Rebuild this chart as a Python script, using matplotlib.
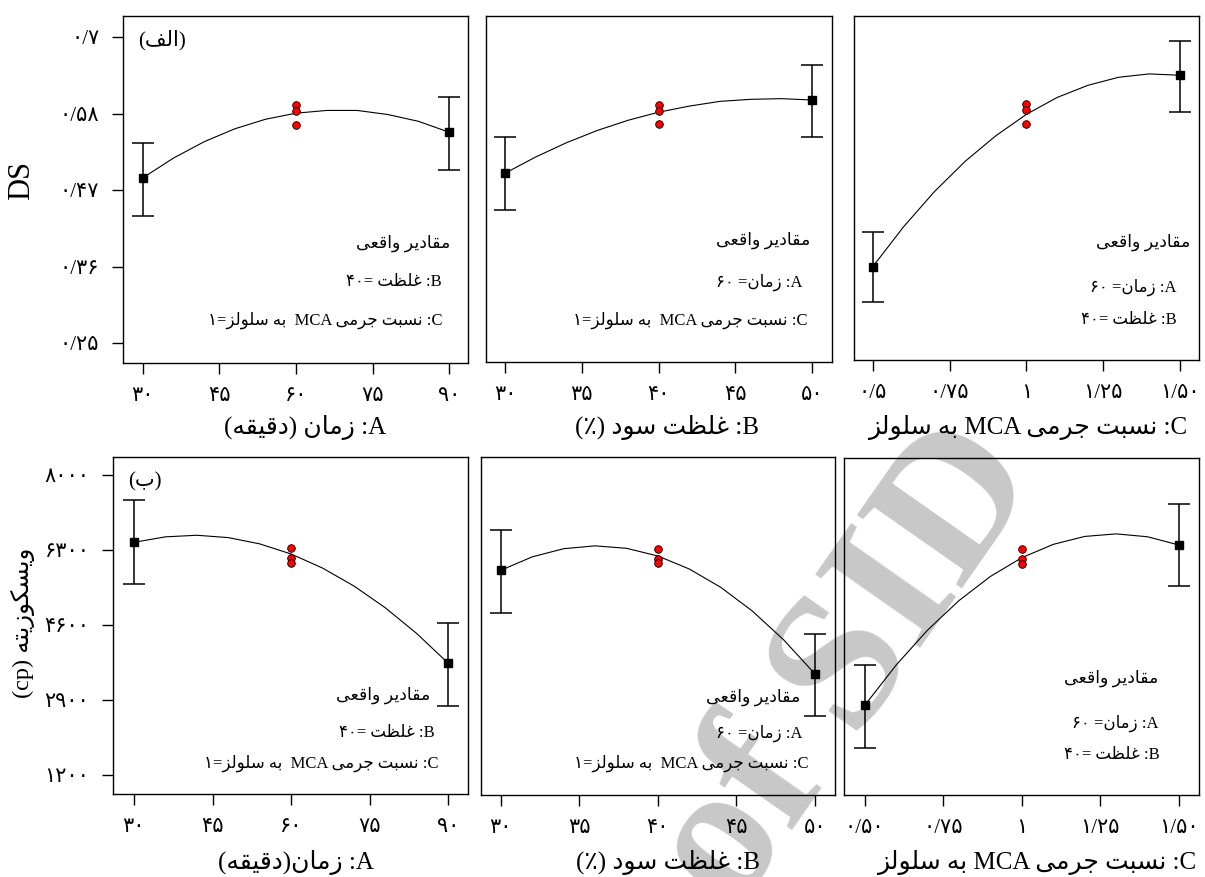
import numpy as np
import matplotlib
matplotlib.use('Agg')
import matplotlib.pyplot as plt

plt.rcParams['font.family'] = ['Liberation Serif', 'DejaVu Sans']

# factor levels along each x axis (curve read at these points)
time_x = [30, 36, 42, 48, 54, 60, 66, 72, 78, 84, 90]
conc_x = [30, 32, 34, 36, 38, 40, 42, 44, 46, 48, 50]
ratio_x = [0.5, 0.6, 0.7, 0.8, 0.9, 1.0, 1.1, 1.2, 1.3, 1.4, 1.5]

# DS model curves
ds_time_curve = [0.493, 0.522, 0.546, 0.565, 0.579, 0.588, 0.592, 0.592, 0.586, 0.576, 0.560]
ds_conc_curve = [0.499, 0.523, 0.544, 0.562, 0.577, 0.589, 0.598, 0.605, 0.608, 0.609, 0.607]
ds_ratio_curve = [0.359, 0.418, 0.470, 0.515, 0.553, 0.585, 0.610, 0.628, 0.640, 0.645, 0.643]

# viscosity model curves (cp)
vis_time_curve = [6474, 6598, 6634, 6581, 6439, 6209, 5890, 5483, 4988, 4404, 3731]
vis_conc_curve = [5846, 6150, 6335, 6400, 6345, 6171, 5877, 5463, 4930, 4277, 3504]
vis_ratio_curve = [2801, 3715, 4507, 5176, 5723, 6148, 6450, 6630, 6688, 6623, 6436]

# end points with error bars: (mean, low, high) at low and high level
ds_time_ends = [[0.493, 0.560], [0.437, 0.504], [0.544, 0.612]]
ds_conc_ends = [[0.499, 0.607], [0.445, 0.552], [0.552, 0.658]]
ds_ratio_ends = [[0.359, 0.643], [0.306, 0.589], [0.410, 0.694]]
vis_time_ends = [[6474, 3731], [5529, 2763], [7433, 4652]]
vis_conc_ends = [[5846, 3504], [4879, 2560], [6769, 4411]]
vis_ratio_ends = [[2801, 6436], [1841, 5499], [3708, 7358]]

# centre point replicates (actual values)
ds_center = [0.600, 0.591, 0.571]
vis_center = [6340, 6112, 6010]

time_ticks = ['۳۰', '۴۵', '۶۰', '۷۵', '۹۰']
conc_ticks = ['۳۰', '۳۵', '۴۰', '۴۵', '۵۰']
ratio_ticks_top = ['۰/۵', '۰/۷۵', '۱', '۱/۲۵', '۱/۵۰']
ratio_ticks_bot = ['۰/۵۰', '۰/۷۵', '۱', '۱/۲۵', '۱/۵۰']
ds_yticks = [0.25, 0.3625, 0.475, 0.5875, 0.7]
ds_ylabels = ['۰/۲۵', '۰/۳۶', '۰/۴۷', '۰/۵۸', '۰/۷']
vis_yticks = [1200, 2900, 4600, 6300, 8000]
vis_ylabels = ['۱۲۰۰', '۲۹۰۰', '۴۶۰۰', '۶۳۰۰', '۸۰۰۰']

# --- tiny arabic shaping + bidi so persian reads right without extra libs ---
def _f(*c):
    return tuple(chr(x) for x in c)

FORMS = {
    'ا': _f(0xFE8D, 0xFE8E), 'ب': _f(0xFE8F, 0xFE90, 0xFE91, 0xFE92),
    'ت': _f(0xFE95, 0xFE96, 0xFE97, 0xFE98), 'ج': _f(0xFE9D, 0xFE9E, 0xFE9F, 0xFEA0),
    'د': _f(0xFEA9, 0xFEAA), 'ر': _f(0xFEAD, 0xFEAE), 'ز': _f(0xFEAF, 0xFEB0),
    'س': _f(0xFEB1, 0xFEB2, 0xFEB3, 0xFEB4), 'ظ': _f(0xFEC5, 0xFEC6, 0xFEC7, 0xFEC8),
    'ع': _f(0xFEC9, 0xFECA, 0xFECB, 0xFECC), 'غ': _f(0xFECD, 0xFECE, 0xFECF, 0xFED0),
    'ف': _f(0xFED1, 0xFED2, 0xFED3, 0xFED4), 'ق': _f(0xFED5, 0xFED6, 0xFED7, 0xFED8),
    'ک': _f(0xFB8E, 0xFB8F, 0xFB90, 0xFB91), 'ل': _f(0xFEDD, 0xFEDE, 0xFEDF, 0xFEE0),
    'م': _f(0xFEE1, 0xFEE2, 0xFEE3, 0xFEE4), 'ن': _f(0xFEE5, 0xFEE6, 0xFEE7, 0xFEE8),
    'ه': _f(0xFEE9, 0xFEEA, 0xFEEB, 0xFEEC), 'و': _f(0xFEED, 0xFEEE),
    'ی': _f(0xFBFC, 0xFBFD, 0xFBFE, 0xFBFF),
}
MIRROR = {'(': ')', ')': '('}


def shape(txt):
    out = []
    for i, ch in enumerate(txt):
        f = FORMS.get(ch)
        if f is None:
            out.append(ch)
            continue
        prev = FORMS.get(txt[i-1]) if i > 0 else None
        nxt = FORMS.get(txt[i+1]) if i + 1 < len(txt) else None
        a = prev is not None and len(prev) == 4
        b = nxt is not None and len(f) == 4
        if a and b:
            out.append(f[3])
        elif a:
            out.append(f[1])
        elif b:
            out.append(f[2])
        else:
            out.append(f[0])
    return ''.join(out)


def fa(txt):
    runs = []
    for ch in txt:
        ltr = (ch.isascii() and ch.isalnum()) or '\u06f0' <= ch <= '\u06f9'
        if runs and runs[-1][0] == ltr:
            runs[-1][1] += ch
        else:
            runs.append([ltr, ch])
    parts = []
    for ltr, s in reversed(runs):
        if ltr:
            parts.append(s)
        else:
            parts.append(''.join(MIRROR.get(c, c) for c in reversed(shape(s))))
    return ''.join(parts)


W, H = 1205, 877
fig = plt.figure(figsize=(W/100, H/100), dpi=100)

# grey watermark sitting behind the panels
fig.text(850/W, 1-668/H, 'of SID', fontsize=140, fontweight='bold', color='#c8c8c8',
         rotation=55, rotation_mode='anchor', ha='center', va='center', zorder=-5)


def box(l, t, r, b):
    return fig.add_axes([l/W, 1-b/H, (r-l)/W, (b-t)/H])


panels = [
    # rect, x, curve, ends, centre x, centre y, xlim, ticks, labels, notes
    ((123, 16, 468, 363), time_x, ds_time_curve, ds_time_ends, 60, ds_center,
     (26.1, 93.7), [30, 45, 60, 75, 90], time_ticks,
     [(0.948, 0.346, 'مقادیر واقعی'), (0.925, 0.233, 'B: غلظت =۴۰'),
      (0.925, 0.124, 'C: نسبت جرمی MCA  به سلولز=۱')]),
    ((486, 16, 832, 362), conc_x, ds_conc_curve, ds_conc_ends, 40, ds_center,
     (28.76, 51.3), [30, 35, 40, 45, 50], conc_ticks,
     [(0.936, 0.353, 'مقادیر واقعی'), (0.916, 0.231, 'A: زمان= ۶۰'),
      (0.93, 0.121, 'C: نسبت جرمی MCA  به سلولز=۱')]),
    ((854, 16, 1199, 360), ratio_x, ds_ratio_curve, ds_ratio_ends, 1.0, ds_center,
     (0.439, 1.562), [0.5, 0.75, 1.0, 1.25, 1.5], ratio_ticks_top,
     [(0.974, 0.343, 'مقادیر واقعی'), (0.936, 0.212, 'A: زمان= ۶۰'),
      (0.936, 0.116, 'B: غلظت =۴۰')]),
    ((113, 457, 468, 794), time_x, vis_time_curve, vis_time_ends, 60, vis_center,
     (26.0, 93.76), [30, 45, 60, 75, 90], time_ticks,
     [(0.893, 0.294, 'مقادیر واقعی'), (0.907, 0.181, 'B: غلظت =۴۰'),
      (0.918, 0.092, 'C: نسبت جرمی MCA  به سلولز=۱')]),
    ((481, 457, 835, 795), conc_x, vis_conc_curve, vis_conc_ends, 40, vis_center,
     (28.75, 51.27), [30, 35, 40, 45, 50], conc_ticks,
     [(0.901, 0.29, 'مقادیر واقعی'), (0.907, 0.183, 'A: زمان= ۶۰'),
      (0.924, 0.095, 'C: نسبت جرمی MCA  به سلولز=۱')]),
    ((844, 458, 1199, 795), ratio_x, vis_ratio_curve, vis_ratio_ends, 1.0, vis_center,
     (0.434, 1.564), [0.5, 0.75, 1.0, 1.25, 1.5], ratio_ticks_bot,
     [(0.885, 0.347, 'مقادیر واقعی'), (0.885, 0.214, 'A: زمان= ۶۰'),
      (0.89, 0.119, 'B: غلظت =۴۰')]),
]

for i, (rect, x, curve, ends, cx, cy, xlim, ticks, tlabels, notes) in enumerate(panels):
    ax = box(*rect)
    ax.set_facecolor('none')
    ax.plot(x, curve, color='k', lw=0.8)
    mean, low, high = [np.array(v) for v in ends]
    ax.errorbar([x[0], x[-1]], mean, yerr=[mean-low, high-mean], fmt='s', color='k',
                ms=5.5, elinewidth=1.1, capsize=8, capthick=1.1)
    ax.plot([cx]*3, cy, 'o', mfc='red', mec='k', mew=0.6, ms=5.5, zorder=4)
    ax.set_xlim(*xlim)
    ax.set_xticks(ticks)
    ax.set_xticklabels(tlabels)
    if i < 3:
        ax.set_ylim(0.2206, 0.7309)
        ax.set_yticks(ds_yticks)
        ax.set_yticklabels(ds_ylabels)
    else:
        ax.set_ylim(769, 8408)
        ax.set_yticks(vis_yticks)
        ax.set_yticklabels(vis_ylabels)
    ax.tick_params(direction='out', length=8, width=1, labelsize=15, pad=9)
    if i not in (0, 3):
        ax.tick_params(axis='y', left=False, labelleft=False)
    for s in ax.spines.values():
        s.set_linewidth(1.0)
    for j, (nx, ny, txt) in enumerate(notes):
        ax.text(nx, ny, fa(txt), transform=ax.transAxes, ha='right', va='center',
                fontsize=12.5 if j == 0 else 12)
    if i == 0:
        ax.text(0.043, 0.93, fa('(الف)'), transform=ax.transAxes, ha='left', va='center', fontsize=15)
    if i == 3:
        ax.text(0.042, 0.926, fa('(ب)'), transform=ax.transAxes, ha='left', va='center', fontsize=15)

# axis titles
xlabels = [(305, 434, 'A: زمان (دقیقه)'), (667, 434, 'B: غلظت سود (٪)'),
           (1028, 434, 'C: نسبت جرمی MCA به سلولز'), (296, 869, 'A: زمان(دقیقه)'),
           (668, 869, 'B: غلظت سود (٪)'), (1037, 869, 'C: نسبت جرمی MCA به سلولز')]
for px, py, txt in xlabels:
    fig.text(px/W, 1-py/H, fa(txt), ha='center', va='baseline', fontsize=18)

fig.text(22/W, 1-180/H, 'DS', rotation=90, ha='center', va='center', fontsize=22)
fig.text(23/W, 1-623/H, fa('ویسکوزیته (cp)'), rotation=90, ha='center', va='center', fontsize=17.5)

fig.savefig('out.png', dpi=100)
